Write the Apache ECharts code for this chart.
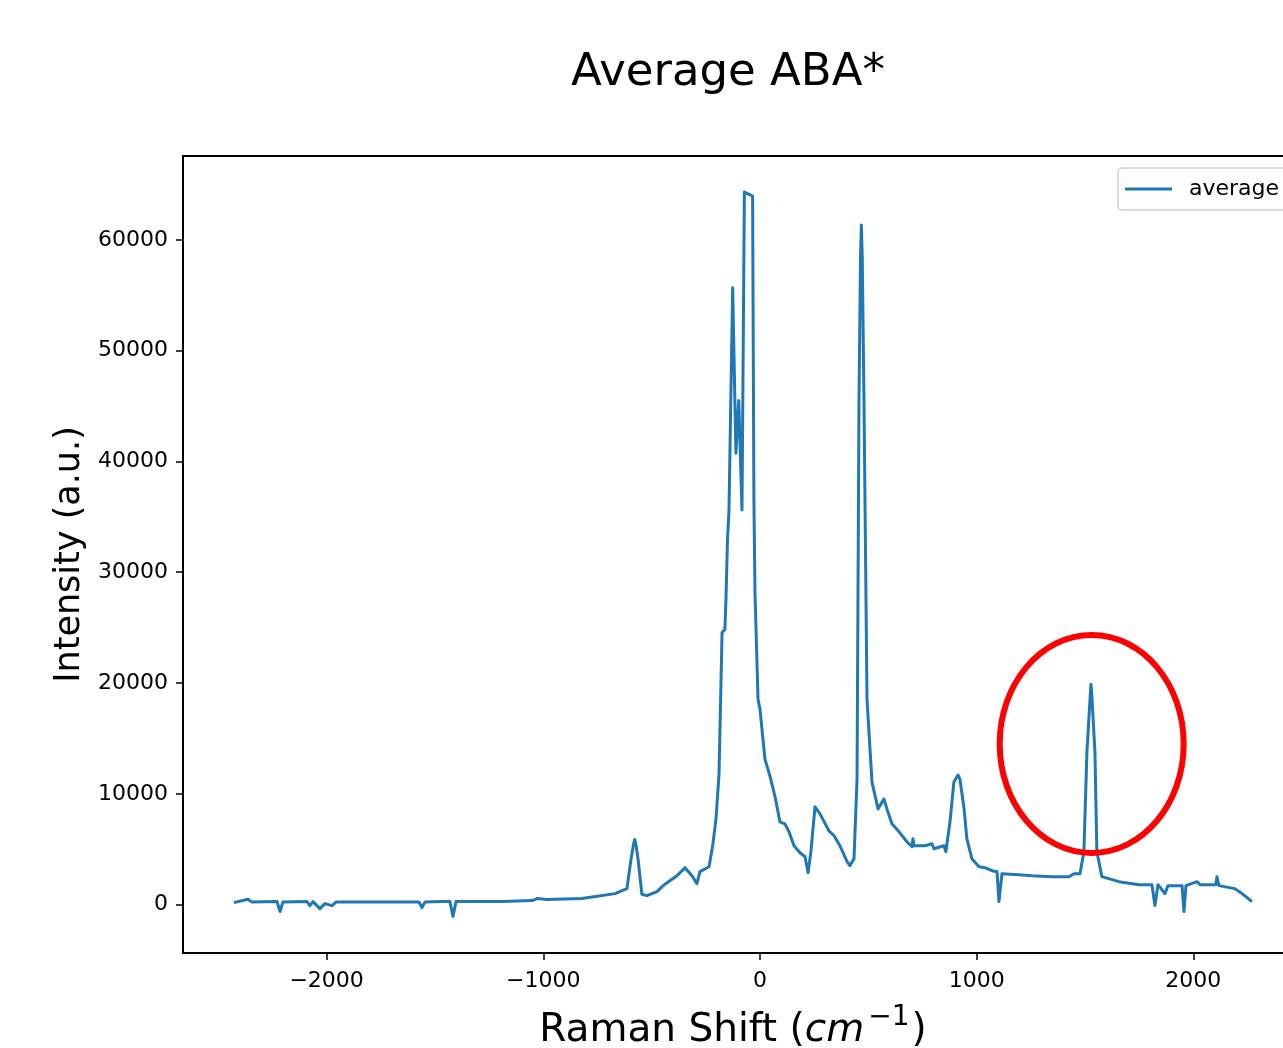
<!DOCTYPE html>
<html>
<head>
<meta charset="utf-8">
<title>Average ABA*</title>
<script src="https://cdn.jsdelivr.net/npm/echarts@6/dist/echarts.min.js"></script>
<style>
  html, body { margin: 0; padding: 0; background: #fff; }
  #chart { width: 1283px; height: 1048px; }
</style>
</head>
<body>
<div id="chart"></div>
<script>
// Raman shift (cm^-1)
var ramanShift = [
  -2428, -2363, -2345, -2229, -2215, -2202, -2091, -2077, -2063, -2031, -2008, -1975, -1957,
  -1652, -1574, -1560, -1546, -1468, -1431, -1417, -1403, -1191, -1052, -1029, -983, -822,
  -669, -614, -595, -583, -578, -573, -563, -545, -522, -475, -452, -429, -383, -346, -314, -291, -277,
  -235, -217, -203, -189, -175, -162, -157, -150, -143, -126, -111, -98, -83, -72, -34,
  -28, -23, -9, 0, 23, 46, 69, 92, 115, 134, 157, 185, 208, 222, 235, 254, 277, 318, 342,
  369, 402, 415, 434, 448, 457, 464, 468, 472, 480, 494, 517, 545, 572, 586, 609, 642, 678, 702, 706,
  711, 762, 794, 803, 849, 858, 877, 895, 914, 923, 942, 955, 978, 1011, 1038, 1071, 1094,
  1103, 1117, 1195, 1255, 1348, 1426, 1449, 1477, 1495, 1509, 1524, 1528, 1532, 1546, 1555, 1578, 1657,
  1749, 1809, 1823, 1837, 1869, 1883, 1948, 1957, 1966, 2017, 2031, 2104, 2109, 2118, 2192,
  2225, 2271
];
var intensity = [
  180, 480, 225, 270, -630, 225, 270, -90, 270, -360, 90, -90, 225,
  225, 225, -270, 225, 270, 270, -1080, 270, 270, 360, 540, 450, 540,
  990, 1440, 4140, 5500, 5870, 5500, 4140, 930, 810, 1170, 1620, 1980, 2610, 3330, 2610, 1890, 2970,
  3420, 5490, 7740, 11800, 24560, 24830, 27520, 32920, 35620, 55680, 40750, 45510, 35620, 64310, 63950,
  36520, 28150, 18530, 17630, 13130, 11600, 9800, 7470, 7290, 6570, 5310, 4680, 4320, 2880, 4770, 8820, 8190, 6660, 6210,
  5310, 3870, 3510, 4140, 11330, 45510, 58500, 61350, 58500, 45510, 18530, 11060, 8640, 9530, 8640, 7290, 6570, 5670, 5220, 5940,
  5310, 5310, 5490, 5040, 5310, 4770, 7470, 11060, 11690, 11330, 8640, 5940, 4140, 3420, 3330, 3060, 2970,
  270, 2790, 2700, 2610, 2520, 2520, 2790, 2790, 4770, 13760, 18800, 19880, 18800, 13760, 4770, 2520, 2070,
  1800, 1800, -90, 1800, 990, 1710, 1710, -630, 1710, 2070, 1800, 1800, 2520, 1710, 1440,
  990, 270
];

var xTicks = [-2000, -1000, 0, 1000, 2000];
var yTicks = [0, 10000, 20000, 30000, 40000, 50000, 60000];

// visible part of the axes (the right edge of the original plot is cut off)
var xRange = [-2663, 2414];
var yRange = [-4370, 67570];

// highlighted peak (data coords) for the red ring
var ringCenter = [1531, 14500];

var font = 'DejaVu Sans';
var points = ramanShift.map(function (x, i) { return [x, intensity[i]]; });

function minus(v) { return String(v).replace('-', '\u2212'); }

var chart = echarts.init(document.getElementById('chart'));

var spine = { show: true, onZero: false, lineStyle: { color: '#000', width: 2 } };
var tick = { show: true, length: 7, lineStyle: { color: '#000', width: 1.5 } };

var option = {
  backgroundColor: '#fff',
  animation: false,
  title: {
    text: 'Average ABA*',
    left: 723,
    top: 46,
    textAlign: 'center',
    textStyle: { fontFamily: font, fontSize: 45, fontWeight: 'normal', color: '#000' }
  },
  legend: {
    data: ['average'],
    left: 1118,
    top: 168,
    padding: [10, 12, 10, 7],
    icon: 'rect',
    itemWidth: 47,
    itemHeight: 3,
    backgroundColor: '#fff',
    borderColor: '#d0d0d0',
    borderWidth: 1.5,
    borderRadius: 4,
    textStyle: { fontFamily: font, fontSize: 22, color: '#000', padding: [0, 0, 0, 12] }
  },
  grid: {
    left: 183,
    top: 156,
    right: 0,
    bottom: 95,
    show: false,
    containLabel: false,
    outerBoundsMode: 'none'
  },
  xAxis: [
    {
      type: 'value',
      min: xRange[0],
      max: xRange[1],
      name: '{a|Raman Shift (}{i|cm}{s|\u22121}{a|)}',
      nameLocation: 'middle',
      nameGap: 51,
      nameTextStyle: {
        rich: {
          a: { fontFamily: font, fontSize: 39, color: '#000', verticalAlign: 'bottom' },
          i: { fontFamily: font, fontSize: 39, fontStyle: 'italic', color: '#000', verticalAlign: 'bottom' },
          s: { fontFamily: font, fontSize: 28, color: '#000', verticalAlign: 'bottom', padding: [0, 2, 18, 4] }
        }
      },
      axisLine: spine,
      axisTick: Object.assign({ customValues: xTicks }, tick),
      axisLabel: {
        fontFamily: font, fontSize: 22, color: '#000', margin: 17,
        customValues: xTicks,
        formatter: minus
      },
      splitLine: { show: false }
    },
    {
      // top spine only
      type: 'value',
      position: 'top',
      min: xRange[0],
      max: xRange[1],
      axisLine: spine,
      axisTick: { show: false },
      axisLabel: { show: false },
      splitLine: { show: false }
    }
  ],
  yAxis: {
    type: 'value',
    min: yRange[0],
    max: yRange[1],
    name: 'Intensity (a.u.)',
    nameLocation: 'middle',
    nameGap: 96,
    nameTextStyle: { fontFamily: font, fontSize: 35, color: '#000' },
    axisLine: spine,
    axisTick: Object.assign({ customValues: yTicks }, tick),
    axisLabel: {
      fontFamily: font, fontSize: 22, color: '#000', margin: 15,
      customValues: yTicks,
      formatter: minus
    },
    splitLine: { show: false }
  },
  series: [
    {
      name: 'average',
      type: 'line',
      data: points,
      showSymbol: false,
      symbol: 'none',
      color: '#1f77b4',
      lineStyle: { color: '#1f77b4', width: 3, join: 'round' },
      z: 3
    }
  ]
};

chart.setOption(option);

// red ring around the peak near 1530
var c = chart.convertToPixel({ xAxisIndex: 0, yAxisIndex: 0 }, ringCenter);
chart.setOption({
  graphic: [{
    type: 'ellipse',
    shape: { cx: c[0], cy: c[1], rx: 92, ry: 109 },
    style: { fill: 'none', stroke: '#ff0000', lineWidth: 6 },
    z: 10
  }]
});
</script>
</body>
</html>
